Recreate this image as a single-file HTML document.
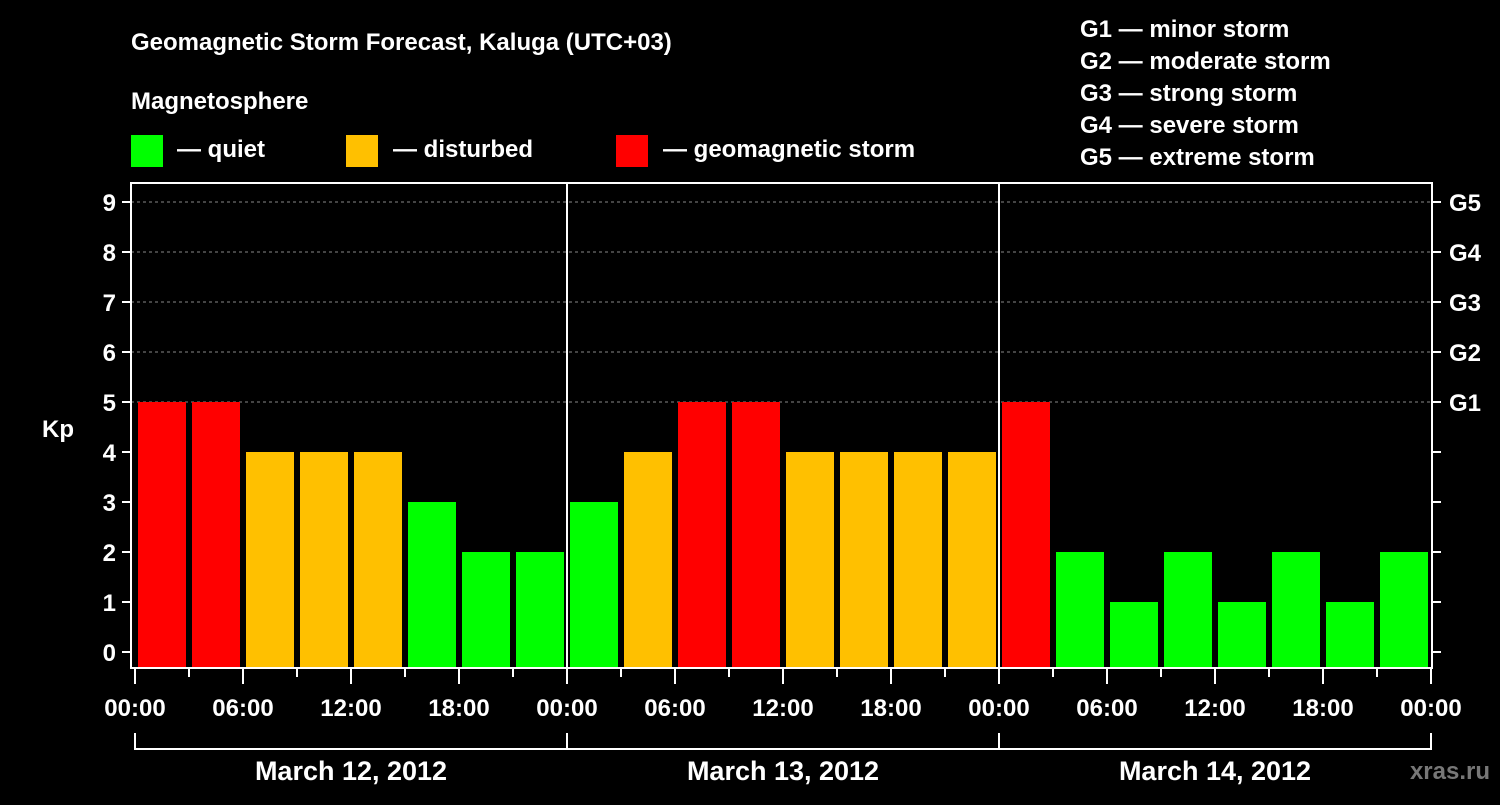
<!DOCTYPE html>
<html><head><meta charset="utf-8"><style>
body{margin:0;background:#000;width:1500px;height:800px;overflow:hidden}
svg text{font-family:"Liberation Sans",Arial,sans-serif;font-weight:bold;fill:#fff}
</style></head><body>
<svg id="c" width="1500" height="800" xmlns="http://www.w3.org/2000/svg">
<text x="131" y="50" font-size="24">Geomagnetic Storm Forecast, Kaluga (UTC+03)</text>
<text x="131" y="109" font-size="24">Magnetosphere</text>
<g>
<rect x="131" y="135" width="32" height="32" fill="#00ff00"/>
<text x="177" y="157" font-size="24">— quiet</text>
<rect x="346" y="135" width="32" height="32" fill="#ffc000"/>
<text x="393" y="157" font-size="24">— disturbed</text>
<rect x="616" y="135" width="32" height="32" fill="#ff0000"/>
<text x="663" y="157" font-size="24">— geomagnetic storm</text>
</g>
<g font-size="24">
<text x="1080" y="37">G1 — minor storm</text>
<text x="1080" y="69">G2 — moderate storm</text>
<text x="1080" y="101">G3 — strong storm</text>
<text x="1080" y="133">G4 — severe storm</text>
<text x="1080" y="165">G5 — extreme storm</text>
</g>
<text x="42" y="437" font-size="24">Kp</text>
<text x="1490" y="779" font-size="24" text-anchor="end" fill="#777" style="fill:#777">xras.ru</text>
<g id="grid"></g><g id="bars"></g><g id="axes"></g>
</svg>
<script>
const days=["March 12, 2012","March 13, 2012","March 14, 2012"];
const kpValues=[5,5,4,4,4,3,2,2, 3,4,5,5,4,4,4,4, 5,2,1,2,1,2,1,2];
const yTicks=[0,1,2,3,4,5,6,7,8,9];
const gLabels=["G1","G2","G3","G4","G5"];
const hourLabels=["00:00","06:00","12:00","18:00"];
const NS="http://www.w3.org/2000/svg";
const X0=135,DAYW=432,SLOT=DAYW/8;
const xs=i=>X0+i*SLOT;
const ys=v=>652-50*v;
function mk(t,a,p,txt){const e=document.createElementNS(NS,t);for(const k in a)e.setAttribute(k,a[k]);if(txt!==undefined)e.textContent=txt;p.appendChild(e);return e;}
const grid=document.getElementById('grid'),bars=document.getElementById('bars'),axes=document.getElementById('axes');
yTicks.forEach(v=>{
 if(v>=5){const l=mk('line',{x1:131,x2:1432,y1:ys(v),y2:ys(v),stroke:'#888','stroke-dasharray':'3,3','stroke-width':1},grid);
 
 }
 const t=mk('line',{x1:122,x2:131,y1:ys(v),y2:ys(v),stroke:'#fff','stroke-width':2},axes);
 
 
 const t2=mk('line',{x1:1432,x2:1441,y1:ys(v),y2:ys(v),stroke:'#fff','stroke-width':2},axes);
 
 
 const lb=mk('text',{x:116,y:ys(v)+9,'font-size':24,'text-anchor':'end'},axes,String(v));
 
 
});
gLabels.forEach((g,i)=>{
 const lb=mk('text',{x:1449,y:ys(5+i)+9,'font-size':24},axes,g);
 
 
});
kpValues.forEach((v,i)=>{
 const c=v>=5?'#ff0000':(v>=4?'#ffc000':'#00ff00');
 const r=mk('rect',{x:xs(i)+3,y:ys(v),width:SLOT-6,height:667-ys(v),fill:c},bars);
 
 
});
const f=mk('rect',{x:131,y:183,width:1301,height:485,fill:'none',stroke:'#fff','stroke-width':2},axes);


for(let d=1;d<days.length;d++){
 const l=mk('line',{x1:X0+d*DAYW,x2:X0+d*DAYW,y1:183,y2:668,stroke:'#fff','stroke-width':2},axes);
 
 
}
for(let i=0;i<=kpValues.length;i++){
 const major=i%2===0;
 const t=mk('line',{x1:xs(i),x2:xs(i),y1:669,y2:major?684:677,stroke:'#fff','stroke-width':2},axes);
 
 
 if(major){const lb=mk('text',{x:xs(i),y:716,'font-size':24,'text-anchor':'middle'},axes,hourLabels[(i/2)%4]);
 
 }
}
days.forEach((d,i)=>{
 const x1=X0+i*DAYW,x2=x1+DAYW;
 const p=mk('path',{d:`M${x1} 733V749H${x2}V733`,fill:'none',stroke:'#fff','stroke-width':2},axes);
 
 
 const lb=mk('text',{x:(x1+x2)/2,y:780,'font-size':27,'text-anchor':'middle'},axes,d);
 
 
});
</script>
</body></html>
